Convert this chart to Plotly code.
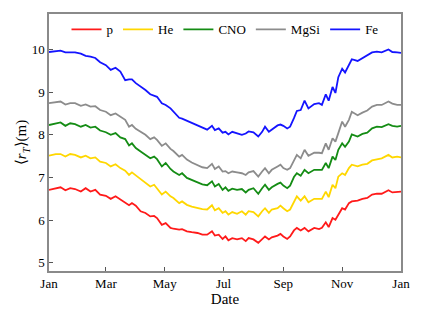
import pandas as pd
import plotly.graph_objects as go

# day of year (0 = 1 Jan 2015)
days = [0, 7, 12, 17, 22, 27, 33, 38, 43, 48, 53, 59, 64, 69, 74, 79, 83, 86, 90, 95,
        100, 105, 109, 112, 117, 121, 126, 129, 135, 138, 143, 148, 154, 159, 164, 169, 172, 176, 180, 183,
        186, 190, 195, 200, 204, 207, 212, 217, 221, 224, 228, 231, 237, 240, 243, 247, 250, 254, 257, 261,
        265, 269, 275, 280, 283, 287, 290, 294, 297, 300, 304, 307, 311, 314, 320, 325, 330, 335, 340, 345,
        352, 356, 361, 365]

p_vals = [6.71, 6.75, 6.77, 6.70, 6.75, 6.73, 6.67, 6.75, 6.67, 6.71, 6.60, 6.57, 6.50, 6.56, 6.48, 6.40, 6.35, 6.40, 6.34, 6.21,
          6.17, 6.09, 6.10, 6.05, 5.89, 5.93, 5.82, 5.80, 5.78, 5.79, 5.74, 5.72, 5.70, 5.66, 5.66, 5.74, 5.64, 5.66, 5.56, 5.62,
          5.53, 5.58, 5.55, 5.58, 5.51, 5.58, 5.55, 5.47, 5.56, 5.62, 5.55, 5.60, 5.64, 5.68, 5.62, 5.56, 5.62, 5.76, 5.82, 5.76,
          5.82, 5.74, 5.82, 5.79, 5.82, 5.95, 5.84, 6.05, 6.01, 6.13, 6.28, 6.25, 6.40, 6.44, 6.46, 6.50, 6.52, 6.60, 6.62, 6.62,
          6.70, 6.65, 6.67, 6.67]

he_vals = [7.51, 7.55, 7.55, 7.49, 7.55, 7.53, 7.47, 7.51, 7.45, 7.47, 7.37, 7.34, 7.26, 7.31, 7.22, 7.16, 7.06, 7.12, 7.05, 6.96,
           6.87, 6.79, 6.83, 6.75, 6.60, 6.67, 6.56, 6.52, 6.40, 6.44, 6.36, 6.32, 6.28, 6.26, 6.25, 6.35, 6.23, 6.28, 6.17, 6.21,
           6.13, 6.19, 6.15, 6.21, 6.13, 6.21, 6.19, 6.09, 6.21, 6.28, 6.17, 6.25, 6.28, 6.34, 6.28, 6.21, 6.25, 6.44, 6.56, 6.46,
           6.56, 6.42, 6.50, 6.50, 6.50, 6.67, 6.54, 6.83, 6.75, 7.02, 7.10, 7.06, 7.22, 7.30, 7.26, 7.30, 7.32, 7.40, 7.43, 7.45,
           7.53, 7.47, 7.49, 7.47]

cno_vals = [8.23, 8.27, 8.29, 8.21, 8.27, 8.25, 8.19, 8.23, 8.17, 8.19, 8.10, 8.06, 8.00, 8.04, 7.94, 7.90, 7.75, 7.80, 7.69, 7.61,
            7.53, 7.45, 7.49, 7.43, 7.26, 7.34, 7.20, 7.14, 7.06, 7.10, 6.99, 6.94, 6.89, 6.84, 6.82, 6.91, 6.79, 6.85, 6.71, 6.77,
            6.69, 6.74, 6.71, 6.73, 6.65, 6.71, 6.75, 6.62, 6.75, 6.83, 6.71, 6.77, 6.85, 6.88, 6.81, 6.75, 6.81, 7.01, 7.10, 7.04,
            7.18, 7.10, 7.18, 7.17, 7.18, 7.34, 7.22, 7.49, 7.41, 7.65, 7.80, 7.72, 7.84, 8.01, 7.96, 8.02, 8.05, 8.15, 8.19, 8.18,
            8.25, 8.21, 8.19, 8.21]

mgsi_vals = [8.74, 8.76, 8.78, 8.71, 8.74, 8.74, 8.68, 8.71, 8.66, 8.67, 8.58, 8.54, 8.46, 8.50, 8.43, 8.35, 8.19, 8.23, 8.14, 8.07,
             8.00, 7.90, 7.94, 7.88, 7.74, 7.80, 7.67, 7.62, 7.49, 7.53, 7.42, 7.35, 7.28, 7.24, 7.22, 7.32, 7.20, 7.26, 7.14, 7.15,
             7.10, 7.14, 7.12, 7.10, 7.06, 7.12, 7.15, 7.02, 7.14, 7.22, 7.10, 7.18, 7.26, 7.30, 7.22, 7.18, 7.22, 7.41, 7.53, 7.45,
             7.65, 7.51, 7.58, 7.58, 7.57, 7.80, 7.65, 7.92, 7.84, 8.04, 8.31, 8.19, 8.35, 8.54, 8.46, 8.52, 8.57, 8.66, 8.70, 8.70,
             8.78, 8.73, 8.70, 8.70]

fe_vals = [9.94, 9.96, 9.97, 9.93, 9.93, 9.93, 9.90, 9.85, 9.83, 9.80, 9.70, 9.63, 9.52, 9.57, 9.48, 9.28, 9.30, 9.30, 9.21, 9.14,
           9.05, 8.95, 8.92, 8.89, 8.74, 8.70, 8.62, 8.54, 8.40, 8.38, 8.33, 8.28, 8.21, 8.16, 8.12, 8.21, 8.11, 8.15, 8.05, 8.07,
           8.01, 8.07, 8.04, 8.00, 8.03, 8.08, 8.06, 7.96, 8.07, 8.19, 8.07, 8.12, 8.22, 8.24, 8.21, 8.15, 8.19, 8.39, 8.56, 8.58,
           8.80, 8.62, 8.72, 8.74, 8.70, 8.95, 8.80, 9.12, 8.98, 9.35, 9.55, 9.46, 9.62, 9.77, 9.73, 9.80, 9.86, 9.93, 9.95, 9.93,
           10.00, 9.94, 9.93, 9.92]

series_names = ["p", "He", "CNO", "MgSi", "Fe"]
series_values = [p_vals, he_vals, cno_vals, mgsi_vals, fe_vals]
series_colors = ["#ff1a1a", "#ffd700", "#148c14", "#8c8c8c", "#1414ff"]

dates = pd.Timestamp("2015-01-01") + pd.to_timedelta(days, unit="D")

fig = go.Figure()
for name, vals, col in zip(series_names, series_values, series_colors):
    fig.add_trace(go.Scatter(x=dates, y=vals, mode="lines", name=name,
                             line=dict(color=col, width=1.8)))

font_family = "Liberation Serif"
axis_common = dict(showline=True, linecolor="#8a8a8a", linewidth=1.5, mirror=True,
                   ticks="inside", ticklen=4, tickwidth=1, tickcolor="#555",
                   showgrid=False, zeroline=False, automargin=False,
                   tickfont=dict(family=font_family, size=13, color="black"))

# page body has an 8px default margin, so the figure is 8px smaller
fig.update_layout(
    width=416, height=310,
    margin=dict(l=40.5, r=23.3, t=6, b=47),
    paper_bgcolor="white", plot_bgcolor="white",
    font=dict(family=font_family, size=13, color="black"),
    showlegend=True,
    legend=dict(orientation="h", x=0.5, xanchor="center", y=0.94, yanchor="middle",
                font=dict(family=font_family, size=13), bgcolor="rgba(0,0,0,0)",
                itemwidth=30),
    xaxis=dict(range=["2015-01-01", "2016-01-01"], dtick="M2", tick0="2015-01-01",
               tickformat="%b",
               title=dict(text="Date", font=dict(family=font_family, size=15), standoff=0),
               **axis_common),
    yaxis=dict(range=[4.81, 10.83], dtick=1,
               title=dict(text="⟨<i>r</i><sub><i>T</i></sub>⟩(m)",
                          font=dict(family=font_family, size=15), standoff=1),
               **axis_common),
)

fig.write_html("out.html")
